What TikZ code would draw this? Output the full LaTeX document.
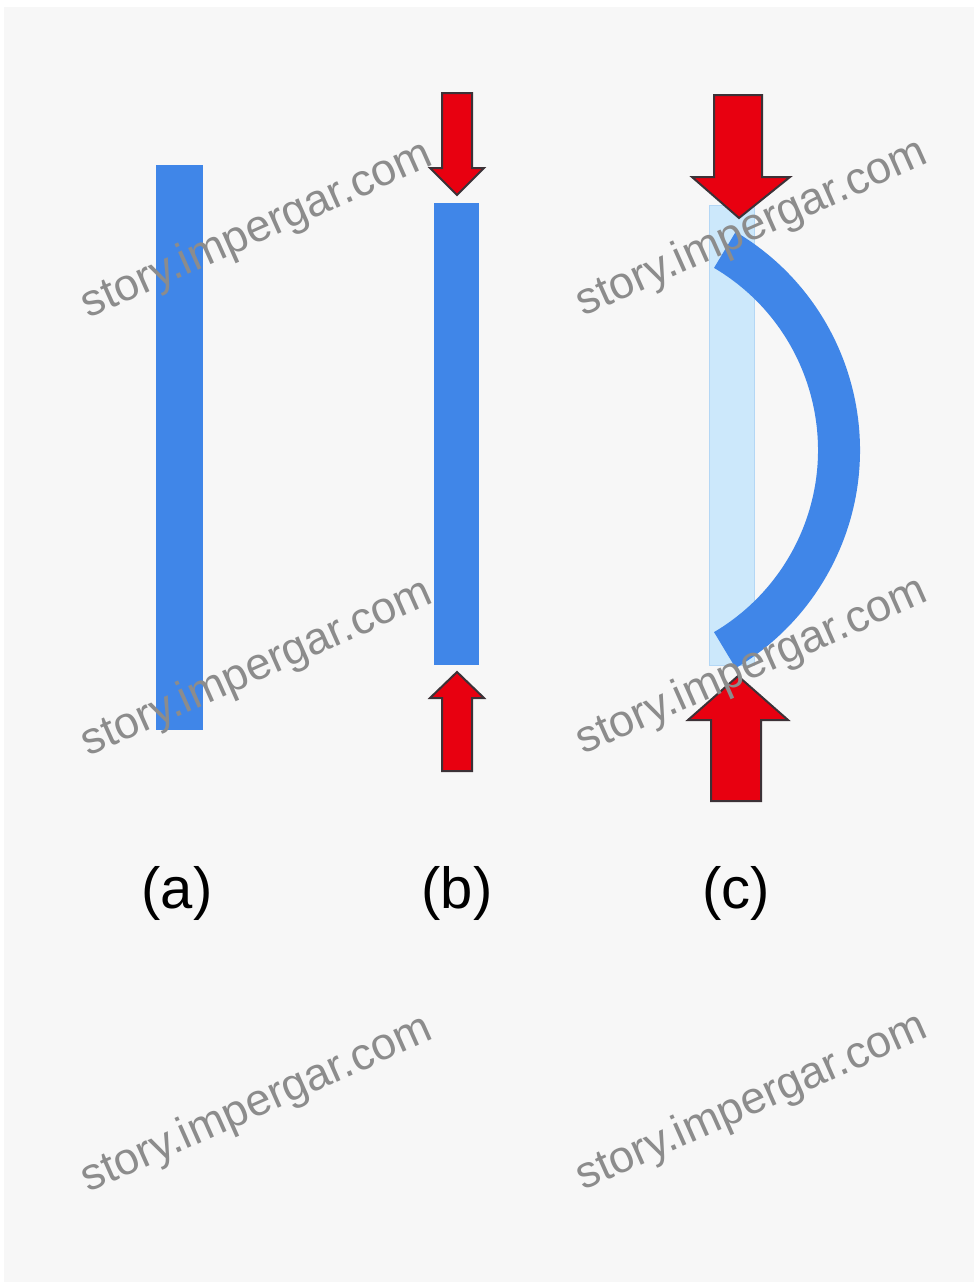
\documentclass[tikz,border=0pt]{standalone}
\usepackage{fontspec}
\setmainfont{Liberation Sans}
\definecolor{barblue}{RGB}{64,134,232}
\definecolor{ghostfill}{RGB}{204,232,251}
\definecolor{ghostedge}{RGB}{180,215,245}
\definecolor{arrowred}{RGB}{232,0,16}
\definecolor{arrowedge}{RGB}{60,50,55}
\definecolor{bggray}{RGB}{247,247,247}
\definecolor{wmgray}{RGB}{140,140,140}
\begin{document}
\begin{tikzpicture}[x=1pt,y=-1pt,
  bar/.style={fill=barblue, draw=none},
  ghost/.style={fill=ghostfill, draw=ghostedge, line width=1},
  redarrow/.style={fill=arrowred, draw=arrowedge, line width=2, line join=miter},
  caption/.style={font=\fontsize{58}{60}\selectfont, text=black, inner sep=0},
  wmark/.style={font=\fontsize{45}{47}\selectfont, text=wmgray, rotate=24, inner sep=0}]
\useasboundingbox (0,0) rectangle (974,1282);
\fill[white] (0,0) rectangle (974,1282);
\fill[bggray] (4,7) rectangle (974,1282);

% (a)
\path[bar] (156,165) rectangle (203,730);

% (b)
\path[bar] (434,203) rectangle (479,665);
\path[redarrow] (442,93) -- (472,93) -- (472,168) -- (484,168) -- (457,195) -- (430,168) -- (442,168) -- cycle;
\path[redarrow] (457,672) -- (484,698) -- (472,698) -- (472,771) -- (442,771) -- (442,698) -- (430,698) -- cycle;

% (c)
\path[ghost] (709,205) rectangle (754,665);
\draw[barblue, line width=42, line cap=butt]
  (606.5,450) ++(-59.4:232.5) arc[start angle=-59.4, end angle=59.4, radius=232.5];
\path[redarrow] (714,95) -- (762,95) -- (762,177) -- (790,177) -- (739,218) -- (692,177) -- (714,177) -- cycle;
\path[redarrow] (738,676) -- (788,720) -- (761,720) -- (761,801) -- (711,801) -- (711,720) -- (688,720) -- cycle;

% captions
\node[caption] (capa) at (177,893) {(a)};
\node[caption] (capb) at (457,893) {(b)};
\node[caption] (capc) at (736,893) {(c)};

% watermarks
\node[wmark] (w1) at (257,231) {story.impergar.com};
\node[wmark] (w2) at (257,669) {story.impergar.com};
\node[wmark] (w3) at (257,1105) {story.impergar.com};
\node[wmark] (w4) at (752,229) {story.impergar.com};
\node[wmark] (w5) at (752,667) {story.impergar.com};
\node[wmark] (w6) at (752,1103) {story.impergar.com};
\end{tikzpicture}
\end{document}
